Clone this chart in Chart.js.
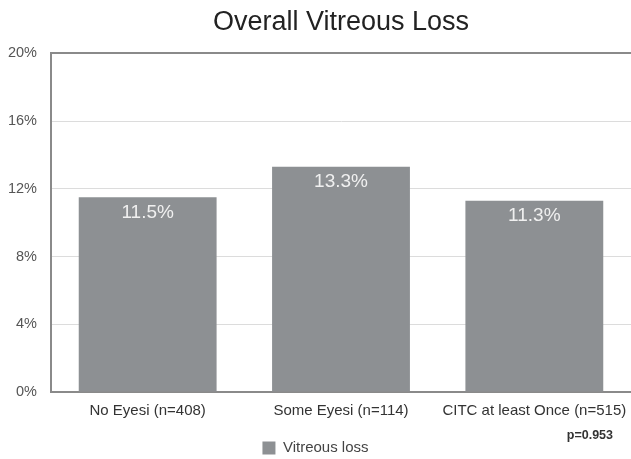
<!DOCTYPE html>
<html>
<head>
<meta charset="utf-8">
<script src="https://cdn.jsdelivr.net/npm/chart.js@4"></script>
<style>
  html, body { margin: 0; padding: 0; background: #fff; }
  #wrap { width: 631px; height: 459px; }
</style>
</head>
<body>
<div id="wrap"><canvas id="chart" width="631" height="459"></canvas></div>
<script>
var categories = ['No Eyesi (n=408)', 'Some Eyesi (n=114)', 'CITC at least Once (n=515)'];
var vitreousLoss = [11.5, 13.3, 11.3];
var yTicks = [0, 4, 8, 12, 16, 20];
var seriesName = 'Vitreous loss';
var pValueText = 'p=0.953';

var barGray = '#8d9093';
var frameGray = '#8a8a8a';
var fontFamily = '"Liberation Sans", Arial, sans-serif';

// value labels just inside the top of each bar
var barLabels = {
  id: 'barLabels',
  afterDatasetsDraw: function(chart) {
    var ctx = chart.ctx;
    var meta = chart.getDatasetMeta(0);
    ctx.save();
    ctx.font = '19px ' + fontFamily;
    ctx.fillStyle = '#f0f0f0';
    ctx.textAlign = 'center';
    ctx.textBaseline = 'middle';
    meta.data.forEach(function(bar, i) {
      ctx.fillText(vitreousLoss[i].toFixed(1) + '%', bar.x, bar.y + 15);
    });
    ctx.restore();
  }
};

// p value under the last category
var pNote = {
  id: 'pNote',
  afterDraw: function(chart) {
    var ctx = chart.ctx;
    var area = chart.chartArea;
    ctx.save();
    ctx.font = 'bold 12.5px ' + fontFamily;
    ctx.fillStyle = '#333';
    ctx.textAlign = 'right';
    ctx.textBaseline = 'middle';
    ctx.fillText(pValueText, area.right - 18, area.bottom + 44);
    ctx.restore();
  }
};

new Chart(document.getElementById('chart'), {
  type: 'bar',
  data: {
    labels: categories,
    datasets: [{
      label: seriesName,
      data: vitreousLoss,
      backgroundColor: barGray,
      borderWidth: 0,
      barPercentage: 0.713,
      categoryPercentage: 1
    }]
  },
  options: {
    responsive: false,
    animation: false,
    layout: { padding: { left: 0, right: 0, top: 6, bottom: -6.5 } },
    plugins: {
      title: {
        display: true,
        text: 'Overall Vitreous Loss',
        fullSize: false,
        color: '#222',
        font: { family: fontFamily, size: 27, weight: 'normal' },
        padding: { top: 0, bottom: 15 }
      },
      legend: {
        position: 'bottom',
        labels: {
          color: '#444',
          font: { family: fontFamily, size: 15 },
          boxWidth: 13,
          boxHeight: 13,
          padding: 0
        }
      },
      tooltip: { enabled: false }
    },
    scales: {
      x: {
        grid: { display: false },
        border: { color: frameGray, width: 2 },
        afterFit: function(axis) {
          axis.height = 48.5;
          axis.paddingLeft = 0;
          axis.paddingRight = 0;
        },
        ticks: {
          color: '#333',
          padding: 2,
          maxRotation: 0,
          font: { family: fontFamily, size: 15 }
        }
      },
      y: {
        min: 0,
        max: 20,
        afterBuildTicks: function(axis) {
          axis.ticks = yTicks.map(function(v) { return { value: v }; });
        },
        afterFit: function(axis) { axis.width = 51; },
        grid: {
          color: function(c) { return c.tick && c.tick.value === 20 ? frameGray : '#dcdcdc'; },
          lineWidth: function(c) { return c.tick && c.tick.value === 20 ? 2 : 1; },
          drawTicks: false
        },
        border: { color: frameGray, width: 2 },
        ticks: {
          color: '#555',
          padding: 14,
          font: { family: fontFamily, size: 14.5 },
          callback: function(v) { return v + '%'; }
        }
      }
    }
  },
  plugins: [barLabels, pNote]
});
</script>
</body>
</html>
